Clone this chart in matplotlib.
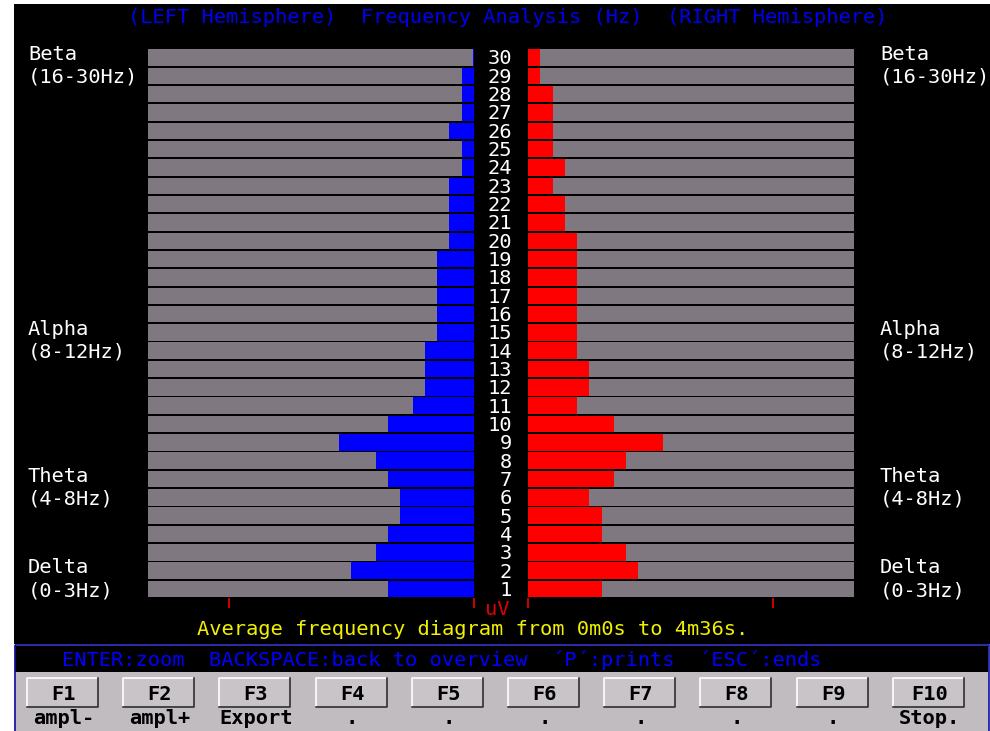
import matplotlib
matplotlib.use("Agg")
import matplotlib.pyplot as plt
import matplotlib.transforms as mtransforms
from matplotlib.patches import Rectangle
from matplotlib.lines import Line2D

# amplitude per 1 Hz bin, in screen units (uV scale), bins 1..30
freqs = list(range(1, 31))
left_uv = [7, 10, 8, 7, 6, 6, 7, 8, 11, 7, 5, 4, 4, 4, 3,
           3, 3, 3, 3, 2, 2, 2, 2, 1, 1, 2, 1, 1, 1, 0.1]
right_uv = [6, 9, 8, 6, 6, 5, 7, 8, 11, 7, 4, 5, 5, 4, 4,
            4, 4, 4, 4, 4, 3, 3, 2, 3, 2, 2, 2, 2, 1, 1]
uv_ticks = [0, 20]
uv_max = 26.6

bands = [("Beta", "(16-30Hz)", 30), ("Alpha", "(8-12Hz)", 15),
         ("Theta", "(4-8Hz)", 7), ("Delta", "(0-3Hz)", 2)]

fkeys = ["F1", "F2", "F3", "F4", "F5", "F6", "F7", "F8", "F9", "F10"]
fkey_actions = ["ampl-", "ampl+", "Export", ".", ".", ".", ".", ".", ".", "Stop."]

title = "(LEFT Hemisphere)  Frequency Analysis (Hz)  (RIGHT Hemisphere)"
footer = "Average frequency diagram from 0m0s to 4m36s."
helpline = "ENTER:zoom  BACKSPACE:back to overview  \u00b4P\u00b4:prints  \u00b4ESC\u00b4:ends"

W, H = 990, 731
MONO = "DejaVu Sans Mono"
FS = 14.7
GRAY = "#807880"
PANEL = "#c0bcc0"
BLUE_TXT = "#0000f0"

plt.rcParams["font.family"] = MONO


def px_rect(x0, y0, x1, y1):
    return [x0 / W, 1 - y1 / H, (x1 - x0) / W, (y1 - y0) / H]


fig = plt.figure(figsize=(W / 100, H / 100), dpi=100, facecolor="white")

# screen background, drawn in pixel coordinates
bg = fig.add_axes([0, 0, 1, 1], zorder=0)
bg.set_xlim(0, W)
bg.set_ylim(H, 0)
bg.axis("off")
bg.add_patch(Rectangle((14, 4), 976, 640, facecolor="black", edgecolor="none"))
bg.add_patch(Rectangle((14, 644), 975, 90, facecolor=PANEL, edgecolor="none"))
bg.add_patch(Rectangle((15, 645.5), 973, 26.5, facecolor="black", edgecolor="none"))
bg.add_patch(Rectangle((14.5, 644.5), 974, 90, facecolor="none",
                       edgecolor="#1010a0", linewidth=1.2))

bg.text(508, 23, title, color=BLUE_TXT, fontsize=FS, ha="center", va="baseline")
bg.text(62, 666, helpline, color="#0000ff", fontsize=FS, ha="left", va="baseline")
bg.text(472.5, 635, footer, color="#f0f000", fontsize=FS, ha="center", va="baseline")
bg.text(497, 615, "uV", color="#e00000", fontsize=FS, ha="center", va="baseline")

# function key buttons
for i, (key, action) in enumerate(zip(fkeys, fkey_actions)):
    x0 = 27 + i * 96.2
    x1 = x0 + 71
    y0, y1 = 678, 707
    bg.add_patch(Rectangle((x0, y0), x1 - x0, y1 - y0, facecolor="#c8c4c8",
                           edgecolor="none"))
    bg.add_line(Line2D([x0, x0, x1], [y1, y0, y0], color="white", lw=1.2))
    bg.add_line(Line2D([x0, x1, x1], [y1, y1, y0], color="#303030", lw=1.2))
    bg.text((x0 + x1) / 2 + 1, 700, key, color="black", fontsize=FS,
            fontweight="bold", ha="center", va="baseline")
    bg.text((x0 + x1) / 2 + 1, 724, action, color="black", fontsize=FS,
            fontweight="bold", ha="center", va="baseline")

# hemisphere bar panels
ax_l = fig.add_axes(px_rect(148, 48.3, 474, 598.2), zorder=1)
ax_r = fig.add_axes(px_rect(528, 48.3, 854, 598.2), zorder=1)
for ax, vals, col in ((ax_l, left_uv, "#0000ff"), (ax_r, right_uv, "#ff0000")):
    ax.set_facecolor("black")
    ax.barh(freqs, [uv_max] * len(freqs), height=0.9, color=GRAY, linewidth=0)
    ax.barh(freqs, vals, height=0.9, color=col, linewidth=0)
    ax.set_ylim(0.5, 30.5)
    ax.set_xticks(uv_ticks)
    ax.set_xticklabels([])
    ax.set_yticks([])
    ax.tick_params(axis="x", colors="#e00000", length=7.5, width=1.3,
                   direction="out", pad=0)
    for s in ax.spines.values():
        s.set_visible(False)
ax_l.set_xlim(uv_max, 0)
ax_r.set_xlim(0, uv_max)

# frequency numbers and band names follow the bar rows
row_tr = mtransforms.blended_transform_factory(bg.transData, ax_l.transData)
num_tr = mtransforms.offset_copy(row_tr, fig=fig, y=-7, units="dots")
band_tr1 = mtransforms.offset_copy(row_tr, fig=fig, y=-2.5, units="dots")
band_tr2 = mtransforms.offset_copy(row_tr, fig=fig, y=-25.5, units="dots")

for f in freqs:
    bg.text(512, f, str(f), transform=num_tr, color="white", fontsize=FS,
            ha="right", va="baseline")

for name, rng, row in bands:
    for x in (28, 880):
        bg.text(x, row, name, transform=band_tr1, color="white", fontsize=FS,
                ha="left", va="baseline")
        bg.text(x, row, rng, transform=band_tr2, color="white", fontsize=FS,
                ha="left", va="baseline")

fig.savefig("out.png", dpi=100, facecolor="white")
